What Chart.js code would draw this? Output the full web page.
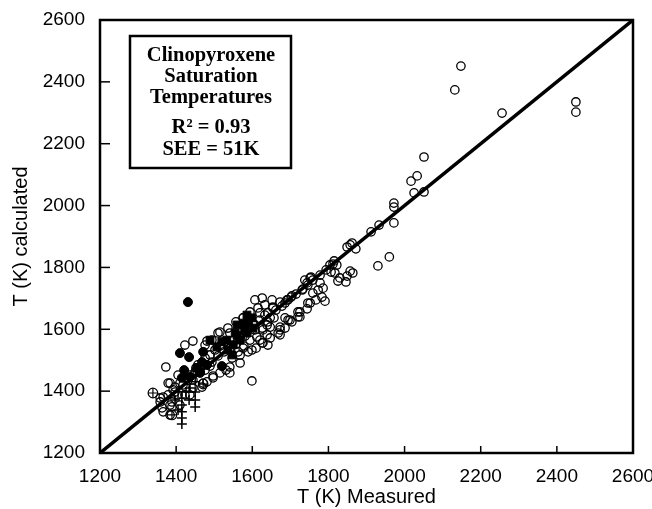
<!DOCTYPE html>
<html>
<head>
<meta charset="utf-8">
<script src="https://cdn.jsdelivr.net/npm/chart.js@4/dist/chart.umd.min.js"></script>
<style>
  html, body { margin: 0; padding: 0; background: #fff; }
  #wrap { width: 652px; height: 509px; }
</style>
</head>
<body>
<div id="wrap"><canvas id="chart" width="652" height="509"></canvas></div>
<script>
// measured T (K) vs calculated T (K)
var openCircles = [
  [2148,2451],[2132,2374],[2256,2299],[2450,2335],[2450,2302],
  [2051,2157],[2033,2096],[2017,2079],[2025,2041],[2051,2044],[1972,2008],[1972,1995],
  [1972,1944],[1933,1937],[1912,1915],[1960,1834],[1930,1805],
  [1849,1866],[1862,1879],[1872,1860],[1857,1873],
  [1804,1808],[1815,1821],[1822,1808],
  [1817,1782],[1830,1766],[1849,1772],[1857,1788],[1846,1753],[1864,1782],[1825,1756],
  [1754,1769],[1738,1759],[1778,1750],[1744,1750],
  [1759,1717],[1773,1727],[1783,1704],[1791,1691],[1767,1695],[1786,1733],
  [1725,1656],[1725,1640],[1752,1685],[1744,1666],
  [1686,1685],[1702,1704],[1715,1714],[1733,1730],[1746,1743],[1759,1759],[1778,1775],
  [1794,1792],[1812,1811],[1807,1785],
  [1673,1688],[1654,1672],[1686,1637],[1699,1630],[1673,1607],[1673,1582],[1639,1614],
  [1620,1653],[1647,1637],[1628,1598],[1602,1620],[1576,1637],[1594,1598],
  [1654,1669],[1691,1695],[1731,1727],[1752,1766],[1746,1685],[1720,1656],[1720,1640],
  [1694,1630],[1673,1598],[1641,1653],[1647,1607],[1626,1556],[1599,1533],[1576,1539],
  [1612,1575],[1639,1582],[1568,1491],[1541,1478],
  [1373,1478],[1423,1549],[1444,1562],[1481,1562],[1510,1588],[1541,1588],[1497,1443],
  [1515,1459],[1541,1459],[1599,1433],[1471,1426],[1444,1410],[1468,1413],[1384,1426],
  [1392,1404],[1358,1365],[1363,1346],[1384,1323],
  [1463,1462],[1444,1436],[1426,1410],[1405,1388],[1384,1355],[1366,1333],
  [1397,1413],[1410,1426],[1431,1436],[1405,1452],
  [1476,1507],[1489,1517],[1502,1533],[1515,1546],[1528,1559],[1494,1494],[1510,1514],
  [1526,1527],[1541,1539],[1557,1552],[1568,1572],[1581,1578],[1594,1565],[1607,1598],
  [1547,1507],[1563,1527],[1578,1546],[1457,1485],[1450,1462],[1476,1468],[1489,1481],
  [1607,1614],[1620,1630],[1633,1646],[1626,1604],[1641,1624],[1657,1637],[1662,1662],
  [1678,1675],[1694,1695],[1704,1708],
  [1476,1549],[1494,1565],[1515,1591],[1536,1604],[1557,1624],[1576,1637],[1594,1656],
  [1615,1669],[1633,1679],[1652,1695],[1626,1701],[1607,1695],
  [1568,1517],[1589,1527],[1610,1539],[1628,1556],[1647,1572],[1668,1588],[1686,1604],
  [1704,1624],[1620,1565],[1641,1549],
  [1379,1388],[1397,1397],[1418,1420],[1436,1452],[1452,1475],[1423,1388],[1389,1365],
  [1358,1378],[1410,1355],[1436,1388],[1481,1430],[1497,1449],[1531,1468],
  [1366,1381],[1379,1426],[1389,1349]
];
var filledCircles = [
  [1431,1688],[1410,1523],[1434,1510],[1471,1527],[1421,1468],[1455,1475],[1481,1485],
  [1520,1481],[1463,1459],[1436,1446],[1415,1443],[1468,1494]
];
var crosses = [
  [1415,1378],[1415,1355],[1415,1333],[1415,1313],[1415,1294],[1405,1397],[1426,1397],
  [1397,1371],[1434,1371],[1450,1430],[1450,1397],[1450,1371],[1450,1349],[1436,1410],
  [1405,1339]
];
var squares = [
  [1586,1646],[1560,1614],[1599,1637],[1489,1565],[1507,1543],[1536,1533],[1547,1517],
  [1568,1565],[1586,1588],[1602,1604],[1533,1565],[1555,1588],[1576,1620],[1520,1560],
  [1550,1550],[1580,1600],[1560,1580],[1590,1620]
];
var crossedCircles = [[1339,1394],[1389,1323],[1471,1423]];
var oneToOne = [[1200,1200],[2600,2600]];
var tickValues = [1200, 1400, 1600, 1800, 2000, 2200, 2400, 2600];
var boxLines = ['Clinopyroxene', 'Saturation', 'Temperatures', 'R\u00b2 = 0.93', 'SEE = 51K'];

function pts(list) {
  return list.map(function (p) { return { x: p[0], y: p[1] }; });
}

// frame, inward ticks and the text box
var decorations = {
  id: 'decorations',
  afterDraw: function (chart) {
    var c = chart.ctx, a = chart.chartArea;
    var xs = chart.scales.x, ys = chart.scales.y;
    c.save();
    c.strokeStyle = '#000';
    c.lineWidth = 2.5;
    c.strokeRect(a.left, a.top, a.right - a.left, a.bottom - a.top);
    c.lineWidth = 1.5;
    tickValues.forEach(function (v) {
      var px = xs.getPixelForValue(v);
      c.beginPath(); c.moveTo(px, a.bottom); c.lineTo(px, a.bottom - 7); c.stroke();
      var py = ys.getPixelForValue(v);
      c.beginPath(); c.moveTo(a.left, py); c.lineTo(a.left + 10, py); c.stroke();
    });
    // legend box
    c.lineWidth = 2.5;
    c.strokeRect(130, 36, 161, 132);
    c.fillStyle = '#000';
    c.font = 'bold 20.5px "Liberation Serif", "Times New Roman", serif';
    c.textAlign = 'center';
    c.textBaseline = 'middle';
    var ys2 = [56, 77, 98, 128, 150];
    boxLines.forEach(function (t, i) { c.fillText(t, 211, ys2[i]); });
    c.restore();
  }
};

var tickFont = { family: '"Liberation Sans", Arial, sans-serif', size: 19 };
var plainTick = function (v) { return String(v); };

var chart = new Chart(document.getElementById('chart').getContext('2d'), {
  type: 'scatter',
  data: {
    datasets: [
      {
        label: 'open', data: pts(openCircles), pointStyle: 'circle', pointRadius: 4.2,
        borderColor: '#000', backgroundColor: 'rgba(255,255,255,0)', borderWidth: 1.3
      },
      {
        label: 'filled', data: pts(filledCircles), pointStyle: 'circle', pointRadius: 4.5,
        borderColor: '#000', backgroundColor: '#000', borderWidth: 1
      },
      {
        label: 'cross', data: pts(crosses), pointStyle: 'cross', pointRadius: 5,
        borderColor: '#000', borderWidth: 1.5
      },
      {
        label: 'square', data: pts(squares), pointStyle: 'rect', pointRadius: 5.5,
        borderColor: '#000', backgroundColor: '#000', borderWidth: 1
      },
      {
        label: 'crossed circle', data: pts(crossedCircles), pointStyle: 'circle', pointRadius: 4.8,
        borderColor: '#000', backgroundColor: 'rgba(255,255,255,0)', borderWidth: 1.2
      },
      {
        label: 'crossed circle +', data: pts(crossedCircles), pointStyle: 'cross', pointRadius: 4.8,
        borderColor: '#000', borderWidth: 1.2
      },
      {
        type: 'line', label: '1:1', data: pts(oneToOne), borderColor: '#000',
        borderWidth: 3.5, pointRadius: 0, fill: false
      }
    ]
  },
  options: {
    responsive: false,
    animation: false,
    events: [],
    layout: { padding: { top: 20, right: 19, left: 0, bottom: 0 } },
    plugins: { legend: { display: false }, tooltip: { enabled: false } },
    scales: {
      x: {
        type: 'linear', min: 1200, max: 2600,
        afterBuildTicks: function (s) { s.ticks = tickValues.map(function (v) { return { value: v }; }); },
        afterFit: function (s) { s.height = 56; s.paddingLeft = 0; s.paddingRight = 0; },
        grid: { display: false, drawTicks: false },
        border: { display: false },
        ticks: { color: '#000', font: tickFont, padding: 12, maxRotation: 0, callback: plainTick },
        title: {
          display: true, text: 'T (K) Measured', color: '#000',
          font: { family: '"Liberation Sans", Arial, sans-serif', size: 20 },
          padding: { top: 0, bottom: 0 }
        }
      },
      y: {
        type: 'linear', min: 1200, max: 2600,
        afterBuildTicks: function (s) { s.ticks = tickValues.map(function (v) { return { value: v }; }); },
        afterFit: function (s) { s.width = 100; s.paddingTop = 0; s.paddingBottom = 0; },
        grid: { display: false, drawTicks: false },
        border: { display: false },
        ticks: { color: '#000', font: tickFont, padding: 15, callback: plainTick },
        title: {
          display: true, text: 'T (K) calculated', color: '#000',
          font: { family: '"Liberation Sans", Arial, sans-serif', size: 20 },
          padding: { top: 9, bottom: 0 }
        }
      }
    }
  },
  plugins: [decorations]
});
</script>
</body>
</html>
